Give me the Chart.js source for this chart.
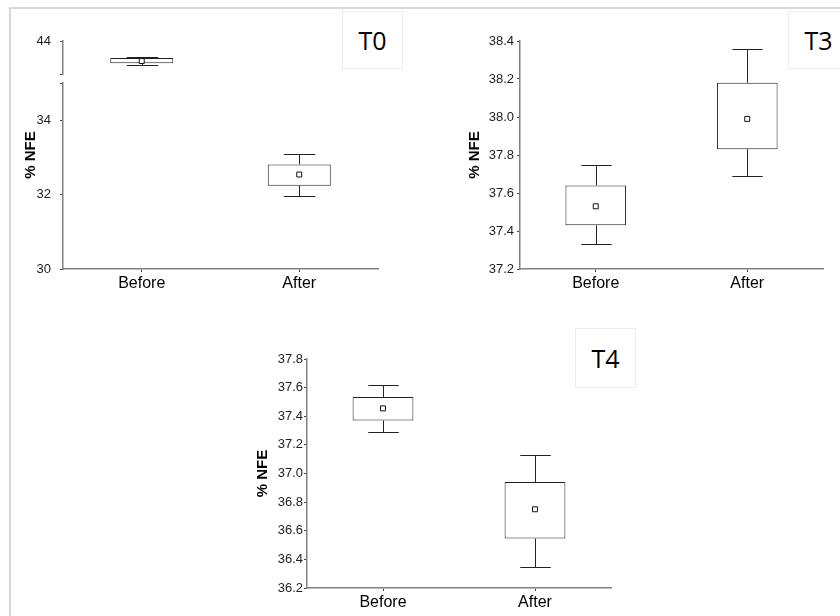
<!DOCTYPE html>
<html>
<head>
<meta charset="utf-8">
<script src="https://cdn.jsdelivr.net/npm/chart.js@4.4.1/dist/chart.umd.min.js"></script>
<style>
  body { margin: 0; background: #fff; width: 840px; height: 616px; overflow: hidden; position: relative; }
  .frame { position: absolute; left: 9px; top: 7px; width: 900px; height: 700px; border-top: 2px solid #d8d8d8; border-left: 2px solid #d8d8d8; }
  .panel { position: absolute; }
  .tag { position: absolute; width: 59px; border: 1px solid #ececec; background: #fff; color: #000;
         font-family: "Open Sans", sans-serif; font-size: 25px; text-align: center; z-index: 2; }
</style>
</head>
<body>
<div class="frame"></div>
<div class="panel" style="left:12px; top:10px; width:400px; height:290px;"><canvas id="t0"></canvas></div>
<div class="panel" style="left:420px; top:10px; width:420px; height:290px;"><canvas id="t3"></canvas></div>
<div class="panel" style="left:200px; top:325px; width:440px; height:291px;"><canvas id="t4"></canvas></div>
<div class="tag" style="left:342px; top:11px; height:56px; line-height:56px;">T0</div>
<div class="tag" style="left:788px; top:11px; height:56px; line-height:56px;">T3</div>
<div class="tag" style="left:575px; top:328px; height:58px; line-height:58px;">T4</div>

<script>
// data
const categories = ['Before', 'After'];

// T0 (broken axis: Before sits on the upper piece)
const t0Min  = [43.35, 31.95];
const t0Q1   = [43.40, 32.24];
const t0Mean = [43.46, 32.54];
const t0Q3   = [43.54, 32.81];
const t0Max  = [43.58, 33.10];
const t0Axes = ['yTop', 'yLow'];
const t0TopTicks = [44];
const t0LowTicks = [30, 32, 34];

// T3
const t3Min  = [37.33, 37.69];
const t3Q1   = [37.43, 37.83];
const t3Mean = [37.53, 37.99];
const t3Q3   = [37.64, 38.18];
const t3Max  = [37.75, 38.36];
const t3Ticks = [37.2, 37.4, 37.6, 37.8, 38.0, 38.2, 38.4];

// T4
const t4Min  = [37.29, 36.35];
const t4Q1   = [37.37, 36.545];
const t4Mean = [37.455, 36.75];
const t4Q3   = [37.535, 36.94];
const t4Max  = [37.62, 37.13];
const t4Ticks = [36.2, 36.4, 36.6, 36.8, 37.0, 37.2, 37.4, 37.6, 37.8];

const AXIS_GREY = '#808080';
const TICK_FONT = { family: 'Liberation Sans', size: 13 };

// whiskers + caps, drawn under the boxes
const whiskers = {
  id: 'whiskers',
  beforeDatasetsDraw(chart, args, opts) {
    const { ctx } = chart;
    const x = chart.scales.x;
    const cap = x.width / categories.length * 0.2;
    ctx.save();
    ctx.strokeStyle = '#222';
    ctx.lineWidth = 1;
    categories.forEach((c, i) => {
      const y = chart.scales[opts.axes[i]];
      const px = Math.round(x.getPixelForValue(i)) + 0.5;
      [[opts.q1[i], opts.min[i]], [opts.q3[i], opts.max[i]]].forEach(([from, to]) => {
        const y0 = y.getPixelForValue(from);
        const y1 = Math.round(y.getPixelForValue(to)) + 0.5;
        ctx.beginPath();
        ctx.moveTo(px, y0);
        ctx.lineTo(px, y1);
        ctx.moveTo(px - cap / 2, y1);
        ctx.lineTo(px + cap / 2, y1);
        ctx.stroke();
      });
    });
    ctx.restore();
  }
};

// rotated "% NFE" label centred on the plot height
const yTitle = {
  id: 'yTitle',
  afterDraw(chart, args, opts) {
    const { ctx, chartArea: a } = chart;
    ctx.save();
    ctx.translate(a.left - opts.offset, (a.top + a.bottom) / 2);
    ctx.rotate(-Math.PI / 2);
    ctx.font = 'bold 15px "Liberation Sans"';
    ctx.fillStyle = '#000';
    ctx.textAlign = 'center';
    ctx.textBaseline = 'middle';
    ctx.fillText('% NFE', 0, 0);
    ctx.restore();
  }
};

function boxDatasets(q1, q3, mean, axes) {
  const sets = [];
  categories.forEach((c, i) => {
    const only = v => categories.map((_, j) => (j === i ? v : null));
    sets.push({
      type: 'line', data: only(mean[i]), yAxisID: axes[i], showLine: false,
      pointStyle: 'rect', pointRadius: 3.5, pointHoverRadius: 3.5, pointBorderWidth: 1,
      pointBorderColor: '#111', pointBackgroundColor: '#fff', order: 0
    });
    sets.push({
      type: 'bar', data: only([q1[i], q3[i]]), yAxisID: axes[i],
      backgroundColor: '#fff', borderColor: '#222', borderWidth: 1, borderSkipped: false,
      grouped: false, barPercentage: 0.4, categoryPercentage: 1, order: 1
    });
  });
  return sets;
}

function yScale(min, max, labels, ends, width, pad, decimals, extra) {
  return Object.assign({
    type: 'linear', position: 'left', min: min, max: max,
    afterBuildTicks: s => { s.ticks = labels.concat(ends).map(v => ({ value: v })); },
    afterFit: s => { s.width = width; },
    ticks: {
      autoSkip: false, font: TICK_FONT, color: '#222', padding: pad,
      callback: v => (labels.includes(v) ? v.toFixed(decimals) : '')
    },
    grid: { display: true, drawOnChartArea: false, drawTicks: true, tickLength: 3, color: '#444' },
    border: { display: true, color: AXIS_GREY, width: 1.5 }
  }, extra || {});
}

function xScale(height) {
  return {
    type: 'category', labels: categories, offset: true,
    afterFit: s => { s.height = height; },
    ticks: { font: { family: 'Liberation Sans', size: 16 }, color: '#000', padding: 2 },
    grid: { display: true, drawOnChartArea: false, offset: false, tickLength: 3, color: '#444' },
    border: { display: true, color: AXIS_GREY, width: 1.5 }
  };
}

function baseOptions(padding, scales, box, offset) {
  return {
    responsive: true, maintainAspectRatio: false, animation: false,
    layout: { padding: padding },
    scales: scales,
    plugins: {
      legend: { display: false }, tooltip: { enabled: false },
      whiskers: box, yTitle: { offset: offset }
    }
  };
}

// T0 with stacked scales for the broken axis
new Chart(document.getElementById('t0'), {
  data: { labels: categories, datasets: boxDatasets(t0Q1, t0Q3, t0Mean, t0Axes) },
  options: baseOptions(
    { top: 31, right: 34, left: 0, bottom: 0 },
    {
      x: xScale(31),
      yLow: yScale(30, 35, t0LowTicks, [35], 51, 9, 0, { stack: 'left', stackWeight: 186, weight: 1 }),
      yGap: {
        type: 'linear', position: 'left', min: 0, max: 1, stack: 'left', stackWeight: 9, weight: 2,
        afterFit: s => { s.width = 51; },
        ticks: { display: false }, grid: { display: false }, border: { display: false }
      },
      yTop: yScale(43.11, 44, t0TopTicks, [43.11], 51, 9, 0, { stack: 'left', stackWeight: 33, weight: 3 })
    },
    { min: t0Min, q1: t0Q1, q3: t0Q3, max: t0Max, axes: t0Axes },
    32
  ),
  plugins: [whiskers, yTitle]
});

new Chart(document.getElementById('t3'), {
  data: { labels: categories, datasets: boxDatasets(t3Q1, t3Q3, t3Mean, ['y', 'y']) },
  options: baseOptions(
    { top: 31, right: 17, left: 0, bottom: 0 },
    { x: xScale(31), y: yScale(37.2, 38.4, t3Ticks, [], 100, 3, 1) },
    { min: t3Min, q1: t3Q1, q3: t3Q3, max: t3Max, axes: ['y', 'y'] },
    45
  ),
  plugins: [whiskers, yTitle]
});

new Chart(document.getElementById('t4'), {
  data: { labels: categories, datasets: boxDatasets(t4Q1, t4Q3, t4Mean, ['y', 'y']) },
  options: baseOptions(
    { top: 34, right: 29, left: 0, bottom: 0 },
    { x: xScale(28), y: yScale(36.2, 37.8, t4Ticks, [], 107, 1, 1) },
    { min: t4Min, q1: t4Q1, q3: t4Q3, max: t4Max, axes: ['y', 'y'] },
    44
  ),
  plugins: [whiskers, yTitle]
});
</script>
</body>
</html>
